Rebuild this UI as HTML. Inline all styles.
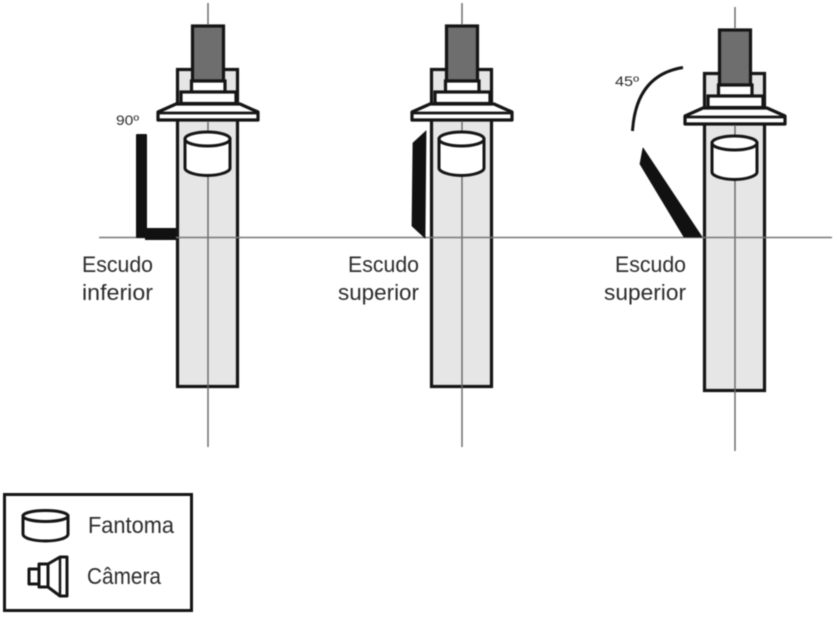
<!DOCTYPE html>
<html>
<head>
<meta charset="utf-8">
<style>
html,body{margin:0;padding:0;background:#fff;}
svg{display:block;filter:blur(0.4px);}
text{font-family:"Liberation Sans",sans-serif;fill:#2b2b2b;}
</style>
</head>
<body>
<svg width="837" height="617" viewBox="0 0 837 617" xmlns="http://www.w3.org/2000/svg">
<rect width="837" height="617" fill="#fff"/>
<defs>
<g id="unit">
  <rect x="177.500" y="69.500" width="60" height="317" fill="#e6e6e6" stroke="#151515" stroke-width="3.200"/>
  <rect x="192.500" y="26" width="31" height="55" fill="#6e6e6e" stroke="#151515" stroke-width="3.200"/>
  <rect x="191.500" y="81" width="33.500" height="11" fill="#fff" stroke="#151515" stroke-width="3.200"/>
  <rect x="181" y="92" width="55" height="11.500" fill="#fff" stroke="#151515" stroke-width="3.200"/>
  <path d="M176 104 L240 104 L258 112 L258 120 L158 120 L158 112 Z" fill="#fff" stroke="#151515" stroke-width="3.200" stroke-linejoin="round"/>
  <path d="M158 113 L258 113" stroke="#151515" stroke-width="2.800" fill="none"/>
  <path d="M208 3 V25 M208 121 V131 M208 175 V447" stroke="#666" stroke-width="1.400" fill="none"/>
  <path d="M185 139 V168 C185 172 196 175.500 207.500 175.500 C219 175.500 230 172 230 168 V139 Z" fill="#fff" stroke="#151515" stroke-width="3"/>
  <ellipse cx="207.500" cy="139" rx="22.500" ry="7" fill="#fff" stroke="#151515" stroke-width="3"/>
</g>
</defs>

<use href="#unit"/>
<use href="#unit" x="254"/>
<use href="#unit" x="527" y="4"/>
<line x1="99" y1="237.500" x2="832" y2="237.500" stroke="#777" stroke-width="1.400"/>

<!-- shield 1 -->
<rect x="136" y="134" width="11" height="104" fill="#111" rx="1"/>
<rect x="145" y="228" width="31" height="12" fill="#111"/>
<!-- shield 2 -->
<polygon points="426,131 425,238 412,226 413,143" fill="#111" stroke="#111" stroke-width="0.800"/>
<!-- shield 3 -->
<polygon points="643,148 640,164 684,237 702,237" fill="#111" stroke="#111" stroke-width="0.800" stroke-linejoin="round"/>
<!-- arc -->
<path d="M632.500 131 Q636 75 683 67.500" fill="none" stroke="#151515" stroke-width="3"/>

<text x="116" y="125" font-size="14" fill="#444" textLength="23" lengthAdjust="spacingAndGlyphs">90º</text>
<text x="615" y="86" font-size="14" fill="#444" textLength="24" lengthAdjust="spacingAndGlyphs">45º</text>

<text x="82" y="272" font-size="22" textLength="71" lengthAdjust="spacingAndGlyphs">Escudo</text>
<text x="82" y="300" font-size="22" textLength="71" lengthAdjust="spacingAndGlyphs">inferior</text>
<text x="348" y="272" font-size="22" textLength="71" lengthAdjust="spacingAndGlyphs">Escudo</text>
<text x="338" y="300" font-size="22" textLength="81" lengthAdjust="spacingAndGlyphs">superior</text>
<text x="615" y="272" font-size="22" textLength="71" lengthAdjust="spacingAndGlyphs">Escudo</text>
<text x="604" y="300" font-size="22" textLength="82" lengthAdjust="spacingAndGlyphs">superior</text>

<!-- legend -->
<rect x="4.500" y="494.500" width="187" height="116" fill="#fff" stroke="#151515" stroke-width="3"/>
<path d="M23 516 V534 C23 538 33 541 45.500 541 C58 541 68 538 68 534 V516 Z" fill="#fff" stroke="#151515" stroke-width="3"/>
<ellipse cx="45.500" cy="516" rx="22.500" ry="5.500" fill="#fff" stroke="#151515" stroke-width="3"/>
<g fill="#fff" stroke="#151515" stroke-width="3" stroke-linejoin="round">
  <rect x="29" y="569" width="10" height="15"/>
  <rect x="39" y="564" width="9" height="23"/>
  <path d="M48 564 L60 557 H67 V596 H60 L48 587 Z"/>
  <path d="M60 557 V596" fill="none" stroke-width="2.500"/>
</g>
<text x="88" y="533" font-size="23" textLength="86" lengthAdjust="spacingAndGlyphs">Fantoma</text>
<text x="87" y="584" font-size="23" textLength="74" lengthAdjust="spacingAndGlyphs">Câmera</text>
</svg>
</body>
</html>
